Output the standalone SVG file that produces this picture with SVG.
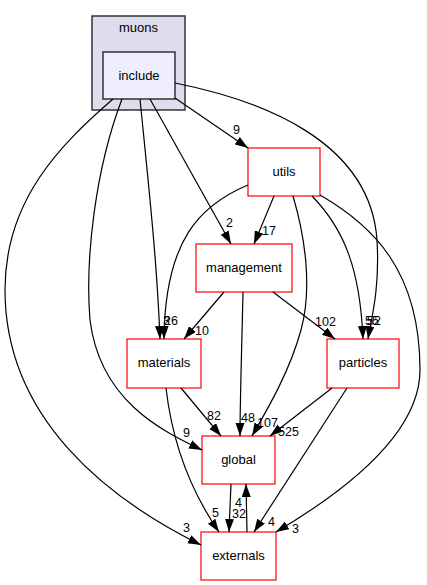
<svg xmlns="http://www.w3.org/2000/svg" width="427" height="585" viewBox="0 0 427 585">
<style>
.n{fill:#fff;stroke:#ff0000;stroke-width:1.2}
.t{font-family:"Liberation Sans",Arial,sans-serif;font-size:13px;text-anchor:middle;fill:#000}
.l{font-family:"Liberation Sans",Arial,sans-serif;font-size:12.5px;fill:#000}
.e{fill:none;stroke:#000;stroke-width:1.2;marker-end:url(#a)}
</style>
<defs>
<marker id="a" markerUnits="userSpaceOnUse" markerWidth="14" markerHeight="10" refX="13" refY="4.5" orient="auto"><path d="M0,0 L13,4.5 L0,9 z" fill="#000"/></marker>
</defs>
<rect width="427" height="585" fill="#fff"/>
<g id="cluster_muons">
<rect x="92" y="16" width="93" height="94" fill="#ddddee" stroke="#333" stroke-width="1.5"/>
<text class="t" x="138.5" y="32">muons</text>
</g>
<g id="include">
<rect x="103" y="52" width="72" height="47" fill="#eeeeff" stroke="#333" stroke-width="1.5"/>
<text class="t" x="139" y="80">include</text>
</g>
<g id="utils"><rect class="n" x="248" y="148" width="72" height="48"/><text class="t" x="284" y="176">utils</text></g>
<g id="management"><rect class="n" x="196" y="244" width="96" height="48"/><text class="t" x="244" y="272">management</text></g>
<g id="materials"><rect class="n" x="127" y="339" width="74" height="49"/><text class="t" x="164" y="367">materials</text></g>
<g id="particles"><rect class="n" x="327" y="339" width="72" height="49"/><text class="t" x="363" y="367">particles</text></g>
<g id="global"><rect class="n" x="202" y="436" width="73" height="48"/><text class="t" x="238.5" y="464">global</text></g>
<g id="externals"><rect class="n" x="201" y="532" width="75" height="48"/><text class="t" x="238.5" y="560">externals</text></g>
<g id="edges">
<path class="e" d="M175,98 L248,148"/><text class="l" x="233" y="134">9</text>
<path class="e" d="M175,83 C260,100 370,140 377,240 C380,290 371,320 368,339"/><text class="l" x="367" y="325">52</text>
<path class="e" d="M150,99 L231,244"/><text class="l" x="226" y="227">2</text>
<path class="e" d="M140,99 C148,180 157,260 160,339"/><text class="l" x="163" y="325">3</text>
<path class="e" d="M122,99 C95,170 85,260 90,320 C100,400 160,430 202,450"/><text class="l" x="183" y="437">9</text>
<path class="e" d="M113,99 C60,145 5,200 5,290 C5,420 110,500 201,545"/><text class="l" x="183" y="532">3</text>
<path class="e" d="M274,196 L254,244"/><text class="l" x="262" y="235">17</text>
<path class="e" d="M248,185 C200,205 165,240 164,339"/><text class="l" x="164" y="325">26</text>
<path class="e" d="M293,196 C306,240 312,290 301,330 C290,370 270,405 252,436"/><text class="l" x="257" y="427">107</text>
<path class="e" d="M312,196 C345,230 360,270 363,339"/><text class="l" x="365" y="325">55</text>
<path class="e" d="M320,195 C372,225 420,270 420,370 C420,440 330,500 276,532"/><text class="l" x="292" y="533">3</text>
<path class="e" d="M224,292 L184,339"/><text class="l" x="195" y="335">10</text>
<path class="e" d="M243,292 C242,340 240,400 240,436"/><text class="l" x="241" y="422">48</text>
<path class="e" d="M273,292 L335,339"/><text class="l" x="315" y="326">102</text>
<path class="e" d="M181,388 L221,436"/><text class="l" x="207" y="420">82</text>
<path class="e" d="M166,388 C172,440 190,490 219,532"/><text class="l" x="212" y="517">5</text>
<path class="e" d="M332,388 L270,436"/><text class="l" x="278" y="436">525</text>
<path class="e" d="M347,388 L254,532"/><text class="l" x="268" y="526">4</text>
<path class="e" d="M231,484 L229,532"/><text class="l" x="232" y="518">32</text>
<path class="e" d="M247,532 L246,484"/><text class="l" x="235" y="507">4</text>
</g>
</svg>
